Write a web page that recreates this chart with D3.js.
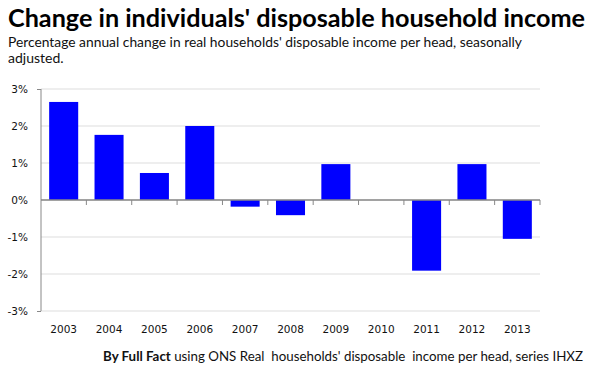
<!DOCTYPE html>
<html><head><meta charset="utf-8">
<script src="https://cdn.jsdelivr.net/npm/d3@7"></script>
<style>body{margin:0;background:#fff}svg{display:block}</style>
</head><body>
<script>
const years = ["2003","2004","2005","2006","2007","2008","2009","2010","2011","2012","2013"];
const values = [2.65, 1.76, 0.73, 2.0, -0.18, -0.41, 0.97, 0, -1.91, 0.97, -1.05];
const yTicks = [3, 2, 1, 0, -1, -2, -3];
const title = "Change in individuals' disposable household income";
const subtitle1 = "Percentage annual change in real households' disposable income per head, seasonally";
const subtitle2 = "adjusted.";
const sourceBold = "By Full Fact";
const sourceRest = " using ONS Real  households' disposable  income per head, series IHXZ";

const W = 590, H = 375;
const svg = d3.select("body").append("svg").attr("width", W).attr("height", H);
const x = d3.scaleBand().domain(years).range([41, 540]).paddingInner(0.36).paddingOuter(0.18);
const y = d3.scaleLinear().domain([-3, 3]).range([311, 89]);

// gridlines
svg.append("g").selectAll("line").data(yTicks).join("line")
  .attr("x1", 41).attr("x2", 540)
  .attr("y1", d => y(d)).attr("y2", d => y(d))
  .attr("stroke", "#dddddd").attr("stroke-width", 1);

// y axis
const yAxis = svg.append("g").attr("transform", "translate(41,0)")
  .call(d3.axisLeft(y).tickValues(yTicks).tickFormat(d => d + "%").tickSize(4).tickPadding(9));
yAxis.select(".domain").attr("stroke", "#888").attr("d", `M0,${y(3)}V${y(-3)}`);
yAxis.selectAll(".tick line").attr("stroke", "#888").attr("opacity", (d) => (d === 3 || d === -3) ? 1 : 0);
yAxis.selectAll(".tick text").attr("font-family", "DejaVu Sans, Verdana, sans-serif").attr("font-size", 10.5).attr("fill", "#111");

// bars
svg.append("g").selectAll("rect").data(years).join("rect")
  .attr("x", d => x(d))
  .attr("width", x.bandwidth())
  .attr("y", (d, i) => y(Math.max(0, values[i])))
  .attr("height", (d, i) => Math.abs(y(values[i]) - y(0)))
  .attr("fill", "#0000ff");

// x axis with ticks at band boundaries
const xg = svg.append("g");
xg.append("line").attr("x1", 41).attr("x2", 540).attr("y1", y(0)).attr("y2", y(0))
  .attr("stroke", "#888").attr("stroke-width", 1.5);
const bounds = d3.range(1, years.length + 1).map(i => 41 + (540 - 41) * i / years.length);
xg.selectAll("line.tk").data(bounds).join("line").attr("class", "tk")
  .attr("x1", d => d).attr("x2", d => d).attr("y1", y(0)).attr("y2", y(0) + 5)
  .attr("stroke", "#888").attr("stroke-width", 1);
xg.selectAll("text").data(years).join("text")
  .attr("x", d => x(d) + x.bandwidth() / 2).attr("y", 333)
  .attr("text-anchor", "middle")
  .attr("font-family", "DejaVu Sans, Verdana, sans-serif").attr("font-size", 10.5).attr("fill", "#111")
  .text(d => d);

// titles
svg.append("text").attr("x", 8).attr("y", 27).attr("font-family", "Lato, sans-serif")
  .attr("font-weight", "bold").attr("font-size", 24).attr("fill", "#000")
  .attr("textLength", 577).attr("lengthAdjust", "spacingAndGlyphs").text(title);
svg.append("text").attr("x", 8).attr("y", 47).attr("font-family", "Lato, sans-serif")
  .attr("font-size", 14).attr("fill", "#111")
  .attr("textLength", 514).attr("lengthAdjust", "spacingAndGlyphs").text(subtitle1);
svg.append("text").attr("x", 8).attr("y", 63).attr("font-family", "Lato, sans-serif")
  .attr("font-size", 14).attr("fill", "#111").text(subtitle2);

// source
const src = svg.append("text").attr("x", 103).attr("y", 361).attr("font-family", "Lato, sans-serif")
  .attr("font-size", 13).attr("fill", "#111").style("white-space", "pre")
  .attr("textLength", 480).attr("lengthAdjust", "spacingAndGlyphs");
src.append("tspan").attr("font-weight", "bold").text(sourceBold);
src.append("tspan").text(sourceRest);
</script>
</body></html>
